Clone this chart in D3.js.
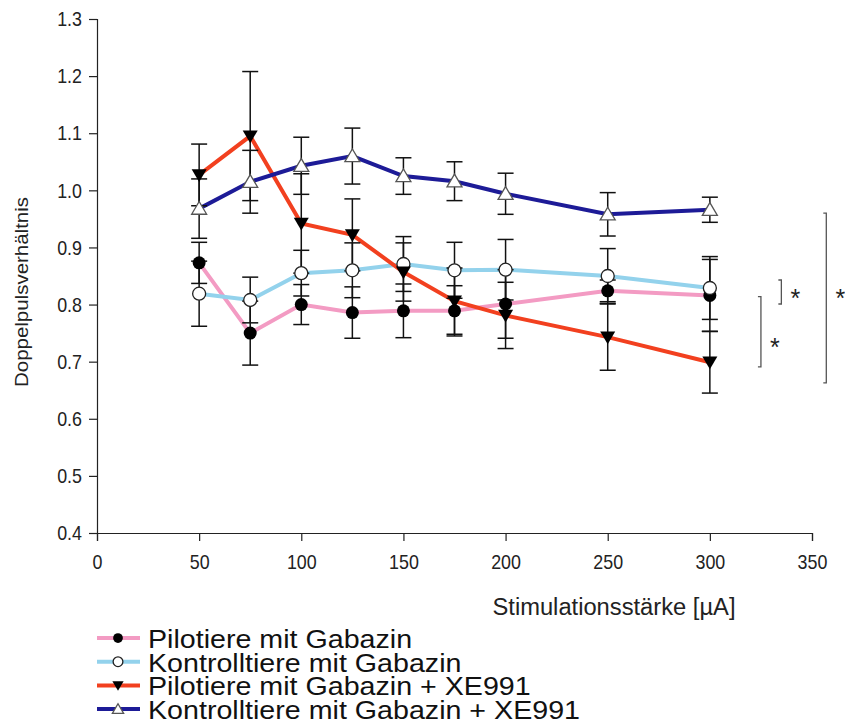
<!DOCTYPE html>
<html>
<head>
<meta charset="utf-8">
<script src="https://cdn.jsdelivr.net/npm/d3@7"></script>
<style>
  body { margin: 0; background: #fff; }
  svg { font-family: "Liberation Sans", Arial, sans-serif; }
  .axis path, .axis line { stroke: #222; stroke-width: 1.2; }
</style>
</head>
<body>
<div id="vis"></div>
<script>
// stimulation strengths (µA)
const stim = [50, 75, 100, 125, 150, 175, 200, 250, 300]

// series values (Doppelpulsverhältnis) and their error bars
const pilotGab = [0.873, 0.750, 0.800, 0.786, 0.789, 0.789, 0.801, 0.824, 0.816]
const pilotGabErr = [0.036, 0.056, 0.035, 0.045, 0.047, 0.044, 0.060, 0.019, 0.063]
const kontrGab = [0.819, 0.808, 0.855, 0.860, 0.871, 0.860, 0.861, 0.850, 0.829]
const kontrGabErr = [0.057, 0.040, 0.040, 0.048, 0.048, 0.049, 0.053, 0.048, 0.055]
const pilotXE = [1.027, 1.095, 0.942, 0.922, 0.857, 0.806, 0.781, 0.743, 0.699]
const pilotXEErr = [0.054, 0.113, 0.087, 0.063, 0.051, 0.058, 0.058, 0.058, 0.054]
const kontrXE = [0.968, 1.015, 1.043, 1.060, 1.025, 1.016, 0.994, 0.958, 0.966]
const kontrXEErr = [0.052, 0.055, 0.050, 0.049, 0.032, 0.034, 0.036, 0.038, 0.022]

const xTicks = [0, 50, 100, 150, 200, 250, 300, 350]
const yTicks = [0.4, 0.5, 0.6, 0.7, 0.8, 0.9, 1.0, 1.1, 1.2, 1.3]

// significance brackets: x position (µA), y from / to, star height
const brackets = [
  {x: 335, y0: 0.843, y1: 0.801, star: 0.821},
  {x: 325, y0: 0.814, y1: 0.691, star: 0.734},
  {x: 357, y0: 0.960, y1: 0.663, star: 0.820}
]

const series = [
  {name: 'Pilotiere mit Gabazin', values: pilotGab, err: pilotGabErr, color: '#f39bc3', marker: 'dot'},
  {name: 'Kontrolltiere mit Gabazin', values: kontrGab, err: kontrGabErr, color: '#93d2ec', marker: 'ring'},
  {name: 'Pilotiere mit Gabazin + XE991', values: pilotXE, err: pilotXEErr, color: '#f2401f', marker: 'down'},
  {name: 'Kontrolltiere mit Gabazin + XE991', values: kontrXE, err: kontrXEErr, color: '#1d1b97', marker: 'up'}
]

const W = 845, H = 725

const svg = d3.select('#vis')
  .append('svg')
  .attr('width', W)
  .attr('height', H)

// squeeze or stretch a text horizontally (the original font is not plain Arial width)
function stretch(sel, factor) {
  sel.each(function() {
    const w = this.getComputedTextLength()
    d3.select(this).attr('textLength', w * factor).attr('lengthAdjust', 'spacingAndGlyphs')
  })
}

const xScale = d3.scaleLinear().domain([0, 350]).range([97, 812])
const yScale = d3.scaleLinear().domain([0.4, 1.3]).range([533, 19])

// axes
const gx = svg.append('g')
  .attr('class', 'axis')
  .attr('transform', `translate(0,${yScale(0.4)})`)
  .call(d3.axisBottom(xScale).tickValues(xTicks).tickSize(8).tickPadding(13).tickFormat(d3.format('d')))

const gy = svg.append('g')
  .attr('class', 'axis')
  .attr('transform', `translate(${xScale(0)},0)`)
  .call(d3.axisLeft(yScale).tickValues(yTicks).tickSize(8).tickPadding(7).tickFormat(d3.format('.1f')))

gx.attr('font-size', 21).attr('font-family', 'Liberation Sans, Arial, sans-serif')
gy.attr('font-size', 21).attr('font-family', 'Liberation Sans, Arial, sans-serif')
gx.selectAll('text').attr('fill', '#222')
gy.selectAll('text').attr('fill', '#222')
stretch(gx.selectAll('text'), 0.85)
stretch(gy.selectAll('text'), 0.85)

// axis labels
svg.append('text')
  .attr('x', 614)
  .attr('y', 615)
  .attr('text-anchor', 'middle')
  .style('font-size', '23px')
  .attr('fill', '#222')
  .attr('textLength', 243)
  .attr('lengthAdjust', 'spacingAndGlyphs')
  .text('Stimulationsstärke [µA]')

svg.append('text')
  .attr('transform', 'rotate(-90)')
  .attr('x', -292)
  .attr('y', 28)
  .attr('text-anchor', 'middle')
  .style('font-size', '19px')
  .attr('fill', '#222')
  .attr('textLength', 190)
  .attr('lengthAdjust', 'spacingAndGlyphs')
  .text('Doppelpulsverhältnis')

const line = d3.line()
  .x((d, i) => xScale(stim[i]))
  .y(d => yScale(d))

const gLines = svg.append('g')
series.forEach(s => {
  gLines.append('path')
    .datum(s.values)
    .attr('d', line)
    .attr('fill', 'none')
    .attr('stroke', s.color)
    .attr('stroke-width', 4)
})

// error bars
const gErr = svg.append('g').attr('stroke', '#111').attr('stroke-width', 1.5)
series.forEach(s => {
  s.values.forEach((v, i) => {
    const x = xScale(stim[i])
    const top = yScale(v + s.err[i]), bot = yScale(v - s.err[i])
    gErr.append('line').attr('x1', x).attr('x2', x).attr('y1', top).attr('y2', bot)
    gErr.append('line').attr('x1', x - 8).attr('x2', x + 8).attr('y1', top).attr('y2', top)
    gErr.append('line').attr('x1', x - 8).attr('x2', x + 8).attr('y1', bot).attr('y2', bot)
  })
})

function drawMarker(g, type, x, y, scale) {
  const k = scale || 1
  if (type === 'dot') {
    g.append('circle').attr('cx', x).attr('cy', y).attr('r', 6.5 * k).attr('fill', '#000')
  } else if (type === 'ring') {
    g.append('circle').attr('cx', x).attr('cy', y).attr('r', 6.5 * k)
      .attr('fill', '#fff').attr('stroke', '#222').attr('stroke-width', 1.3)
  } else if (type === 'down') {
    const s = 7.5 * k
    g.append('path').attr('d', `M${x - s},${y - s * 0.75}L${x + s},${y - s * 0.75}L${x},${y + s * 0.95}Z`)
      .attr('fill', '#000')
  } else {
    const s = 7.5 * k
    g.append('path').attr('d', `M${x - s},${y + s * 0.75}L${x + s},${y + s * 0.75}L${x},${y - s * 0.95}Z`)
      .attr('fill', '#fff').attr('stroke', '#555').attr('stroke-width', 1.3)
  }
}

const gMarks = svg.append('g')
series.forEach(s => {
  s.values.forEach((v, i) => drawMarker(gMarks, s.marker, xScale(stim[i]), yScale(v)))
})

// significance brackets
const gSig = svg.append('g')
brackets.forEach(b => {
  const x = xScale(b.x)
  const y0 = yScale(b.y0), y1 = yScale(b.y1)
  gSig.append('path')
    .attr('d', `M${x - 3},${y0}H${x}V${y1}H${x - 3}`)
    .attr('fill', 'none')
    .attr('stroke', '#555')
    .attr('stroke-width', 1.3)
  gSig.append('text')
    .attr('x', x + 14)
    .attr('y', yScale(b.star) + 14)
    .attr('text-anchor', 'middle')
    .style('font-size', '25px')
    .attr('fill', '#222')
    .text('*')
})

// legend
const legend = svg.append('g')
series.forEach((s, i) => {
  const y = 638 + i * 23.7
  legend.append('line')
    .attr('x1', 97).attr('x2', 140).attr('y1', y).attr('y2', y)
    .attr('stroke', s.color).attr('stroke-width', 4)
  drawMarker(legend, s.marker, 118, y, 0.75)
  legend.append('text')
    .attr('x', 148)
    .attr('y', y + 10)
    .style('font-size', '25px')
    .attr('fill', '#111')
    .text(s.name)
})
stretch(legend.selectAll('text'), 1.145)
</script>
</body>
</html>
